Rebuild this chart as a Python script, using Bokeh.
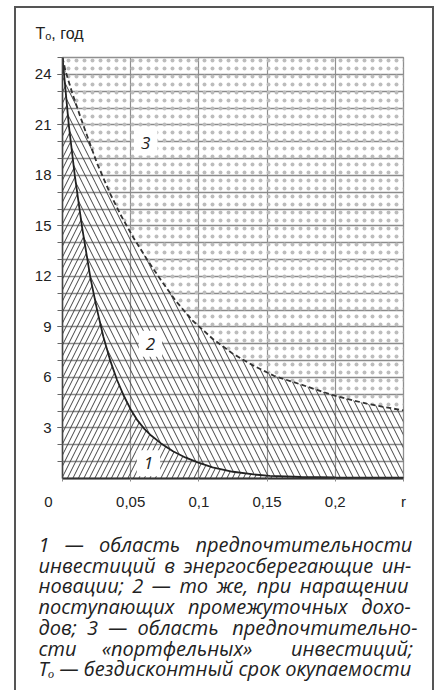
from bokeh.plotting import figure
from bokeh.models import Range1d, FixedTicker, Label, Title
from bokeh.embed import file_html
from bokeh.resources import INLINE

# ---- data ----
# curve 1 (solid): region of preference of energy-saving investments
r1 = [0.0, 0.0046, 0.009, 0.0144, 0.0205, 0.0254, 0.030, 0.035, 0.040, 0.045, 0.050,
      0.055, 0.060, 0.065, 0.072, 0.081, 0.090, 0.0986, 0.110, 0.125, 0.140, 0.152,
      0.175, 0.200, 0.225, 0.250]
T1 = [25.0, 21.0, 18.0, 14.9, 11.9, 10.0, 8.4, 7.0, 5.85, 4.9, 4.1,
      3.45, 2.95, 2.55, 2.1, 1.62, 1.25, 0.97, 0.66, 0.40, 0.24, 0.16,
      0.09, 0.06, 0.05, 0.05]
# curve 2 (dashed): same, with accrual of intermediate incomes
r2 = [0.0, 0.0022, 0.0071, 0.0132, 0.0193, 0.0254, 0.035, 0.043, 0.052, 0.062, 0.072,
      0.083, 0.095, 0.110, 0.125, 0.140, 0.155, 0.174, 0.199, 0.223, 0.250]
T2 = [25.0, 24.2, 22.9, 21.45, 20.07, 18.7, 16.9, 15.6, 14.3, 13.0, 11.8,
      10.55, 9.4, 8.3, 7.4, 6.7, 6.1, 5.6, 4.93, 4.44, 4.04]

x_ticks = [0.0, 0.05, 0.1, 0.15, 0.2, 0.25]
x_tick_labels = ["0\u2007\u2007\u2007\u2009", "0,05", "0,1", "0,15", "0,2", "r"]
x_grid = [0.05, 0.1, 0.15, 0.2]
y_ticks = [3, 6, 9, 12, 15, 18, 21, 24]
y_units = list(range(1, 26))
R_MAX, T_MAX = 0.25, 25

region_labels = ["1", "2", "3"]
region_label_r = [0.063, 0.0645, 0.061]
region_label_T = [0.9, 8.0, 19.95]

y_title = "T\u2092, год"

EN, EM = "\u2002", "\u2003"
TH, SIX, FOUR = "\u2009", "\u2006", "\u2005"
caption = [
    "1 " + EN + "— " + EN + "область " + EN + "предпочтительности",
    "инвестиций" + SIX + " в" + TH + " энергосберегающие" + TH + " ин-",
    "новации;" + TH + " 2" + TH + " —" + TH + " то" + TH + " же," + TH + " при" + TH + " наращении",
    "поступающих" + FOUR + SIX + " промежуточных" + FOUR + SIX + " дохо-",
    "дов;" + FOUR + " 3" + FOUR + " —" + FOUR + " область" + FOUR + TH + " предпочтительно-",
    "сти " + EM + "«портфельных» " + EM + EN + SIX + "инвестиций;",
    "T\u2092 — бездисконтный срок окупаемости",
]

CAP_FONT = "Open Sans"
AX_FONT = "Liberation Sans"

p = figure(width=434, height=690, output_backend="svg", toolbar_location=None,
           x_range=Range1d(0, R_MAX), y_range=Range1d(0, T_MAX),
           min_border_left=62, min_border_right=31, min_border_top=57, min_border_bottom=212)
p.background_fill_color = "white"
p.border_fill_color = "white"
p.outline_line_color = "#8f8f8f"
p.outline_line_width = 1.3

# outer frame of the figure block (decoration)
p.stylesheets = [
    ":host { position: relative; overflow: hidden; }"
    ":host::after { content: ''; position: absolute; left: 14px; top: 6px; width: 420px;"
    " height: 760px; box-sizing: border-box; border: 2px solid #555; pointer-events: none;"
    " z-index: 5; }"
]

# grid
p.xgrid.ticker = FixedTicker(ticks=x_grid)
p.ygrid.ticker = FixedTicker(ticks=y_units[:-1])
p.xgrid.grid_line_color = "#8f8f8f"
p.ygrid.grid_line_color = "#8a8a8a"
p.xgrid.grid_line_width = 1.2
p.ygrid.grid_line_width = 1.3

# axes
xa = p.xaxis[0]
xa.ticker = FixedTicker(ticks=x_ticks)
xa.major_label_overrides = {t: l for t, l in zip(x_ticks, x_tick_labels)}
xa.axis_line_color = "#333333"
xa.axis_line_width = 2
xa.major_tick_out = 3
xa.major_tick_in = 0
xa.major_tick_line_color = "#888888"
xa.minor_tick_line_color = None
xa.major_label_standoff = 11
xa.major_label_text_font = AX_FONT
xa.major_label_text_font_size = "15px"
xa.major_label_text_color = "#222222"

ya = p.yaxis[0]
ya.ticker = FixedTicker(ticks=y_ticks, minor_ticks=y_units)
ya.axis_line_color = "#444444"
ya.axis_line_width = 1.5
ya.major_tick_out = 5
ya.major_tick_in = 0
ya.minor_tick_out = 5
ya.minor_tick_in = 0
ya.major_tick_line_color = "#666666"
ya.minor_tick_line_color = "#666666"
ya.major_label_standoff = 6
ya.major_label_text_font = AX_FONT
ya.major_label_text_font_size = "15px"
ya.major_label_text_color = "#222222"

# regions
reg3_x = r2 + [R_MAX, 0.0]
reg3_y = T2 + [T_MAX, T_MAX]
p.patch(reg3_x, reg3_y, fill_color=None, line_color=None,
        hatch_pattern=".", hatch_color="#bdbdbd", hatch_scale=8, hatch_weight=1)

reg2_x = r2 + r1[::-1]
reg2_y = T2 + T1[::-1]
p.patch(reg2_x, reg2_y, fill_color=None, line_color=None,
        hatch_pattern="\\", hatch_color="#444444", hatch_scale=13, hatch_weight=1)

reg1_x = r1 + [R_MAX, 0.0]
reg1_y = T1 + [0.0, 0.0]
p.patch(reg1_x, reg1_y, fill_color=None, line_color=None,
        hatch_pattern="/", hatch_color="#444444", hatch_scale=11, hatch_weight=1)

# curves
p.line(r2, T2, line_color="#333333", line_width=1.8, line_dash="5 3")
p.line(r1, T1, line_color="#222222", line_width=1.8)

# region labels
for txt, rx, ty in zip(region_labels, region_label_r, region_label_T):
    p.add_layout(Label(x=rx, y=ty, text=txt, text_font=CAP_FONT, text_font_style="italic",
                       text_font_size="17px", text_color="#222222", text_align="center",
                       text_baseline="middle", background_fill_color="white", padding=7))

# y title above the frame
p.add_layout(Title(text=y_title, align="left", offset=-27, standoff=27, vertical_align="top",
                   text_font=AX_FONT, text_font_size="16px", text_font_style="normal",
                   text_color="#222222"), "above")

# caption block below the axis (leading empty line keeps the block clear of the axis)
p.add_layout(Title(text="\n" + "\n".join(caption), align="left", offset=-24, standoff=-10,
                   vertical_align="bottom", text_line_height=0.77,
                   text_font=CAP_FONT, text_font_style="italic", text_font_size="20px",
                   text_color="#222222"), "below")

open("out.html", "w").write(file_html(p, INLINE))
